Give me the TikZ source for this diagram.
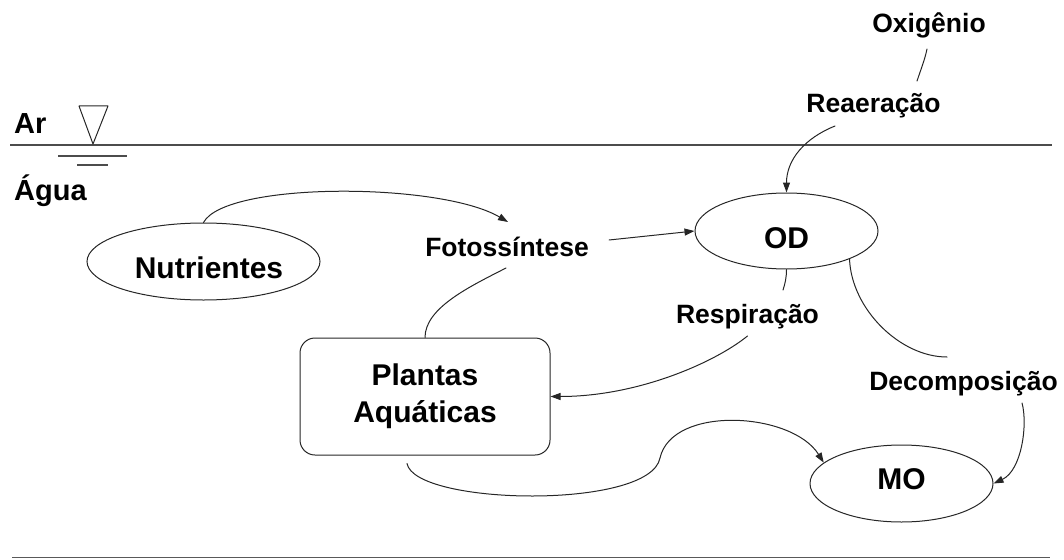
\documentclass[tikz,border=0pt]{standalone}
\usepackage{fontspec}
\setmainfont{Liberation Sans}
\usetikzlibrary{arrows.meta,calc,shapes.geometric}

% type sizes used in the picture
\newcommand{\ndfont}{\bfseries\fontsize{30}{37}\selectfont}
\newcommand{\lbfont}{\bfseries\fontsize{26.5}{32}\selectfont}
\newcommand{\sdfont}{\bfseries\fontsize{29}{34}\selectfont}

\tikzset{
  conn/.style={draw=black!85, line width=1pt, line cap=round},
  arr/.style={conn, -{Triangle[length=10pt,width=7pt]}},
  ell/.style={draw=black!85, line width=1pt, ellipse, inner sep=0pt, font=\ndfont},
  tank/.style={draw=black!85, line width=1pt, rounded corners=15pt, inner sep=0pt,
               align=center, font=\ndfont},
  lbl/.style={inner sep=0pt, font=\lbfont, anchor=base},
  surf/.style={draw=black!70, line width=1.3pt},
}

\begin{document}
\begin{tikzpicture}[x=1pt, y=-1pt]
\useasboundingbox (0,0) rectangle (1064,559);

% water surface and bottom
\draw[surf] (10,145) -- (1052,145);
\draw[surf, draw=black!65, line width=1.8pt] (12,557.5) -- (1050,557.5);
\draw[draw=black!85, line width=1pt, line join=round] (79,106) -- (108,106) -- (93,144) -- cycle;
\draw[surf, line width=1.1pt] (58,156) -- (127,156);
\draw[surf, line width=1.1pt] (77,165) -- (108,165);
\node[inner sep=0pt, font=\sdfont, anchor=base west] (ar) at (14,133) {Ar};
\node[inner sep=0pt, font=\sdfont, anchor=base west] (agua) at (14,200) {Água};

% compartments
\node[ell, minimum width=233pt, minimum height=77pt, text height=33.5pt, text depth=0pt] (nut) at (203.5,261.5) {\hspace{11pt}Nutrientes};
\node[ell, minimum width=183pt, minimum height=76pt, text height=35.5pt, text depth=0pt] (OD) at (786.5,231) {OD};
\node[ell, minimum width=183pt, minimum height=77pt, text height=12.5pt, text depth=0pt] (MO) at (901.5,483.5) {MO};
\node[tank, minimum width=250pt, minimum height=117pt] (box) at (425,396.5) {Plantas\\Aquáticas};

% process labels
\node[lbl] (foto) at (507,256) {Fotossíntese};
\node[lbl] (oxi) at (929,33) {Oxigênio};
\node[lbl] (rea) at (873.5,113) {Reaeração};
\node[lbl] (resp) at (747.5,323) {Respiração};
\node[lbl] (dec) at (963.5,390) {Decomposição};

% fluxes
\draw[arr] (nut.north) .. controls +(22,-41) and +(-68,-40) .. ($(foto.base)+(1,-34)$);
\draw[arr] ($(foto.base)+(102,-16)$) -- (OD.west);
\draw[conn] (box.north) .. controls +(0,-30) and +(-35,18) .. ($(foto.base)+(-1,12)$);

\draw[conn] ($(oxi.base)+(-2,16)$) .. controls +(-2,10) and +(4,-12) .. ($(rea.base)+(43.5,-32)$);
\draw[arr] ($(rea.base)+(-38.5,13)$) .. controls +(-30,12) and +(0,-33) .. (OD.north);

\draw[conn] (OD.south) .. controls +(0,8) and +(2,-6) .. ($(resp.base)+(35.5,-33)$);
\draw[arr] ($(resp.base)+(0,13)$) .. controls +(-32,26) and +(88,0) .. (box.east);

\draw[conn] (OD.-24) .. controls +(2,50) and +(-47,0) .. ($(dec.base)+(-16.5,-33)$);
\draw[arr] ($(dec.base)+(58.5,13)$) .. controls +(6,22) and +(28,-13) .. (MO.east);

\coordinate (dip) at (660,458);
\draw[arr] ($(box.south)+(-18,8)$) .. controls +(8,42) and +(-10,52) .. (dip)
           .. controls +(12,-53) and +(-32,-51) .. (MO.165);
\end{tikzpicture}
\end{document}
